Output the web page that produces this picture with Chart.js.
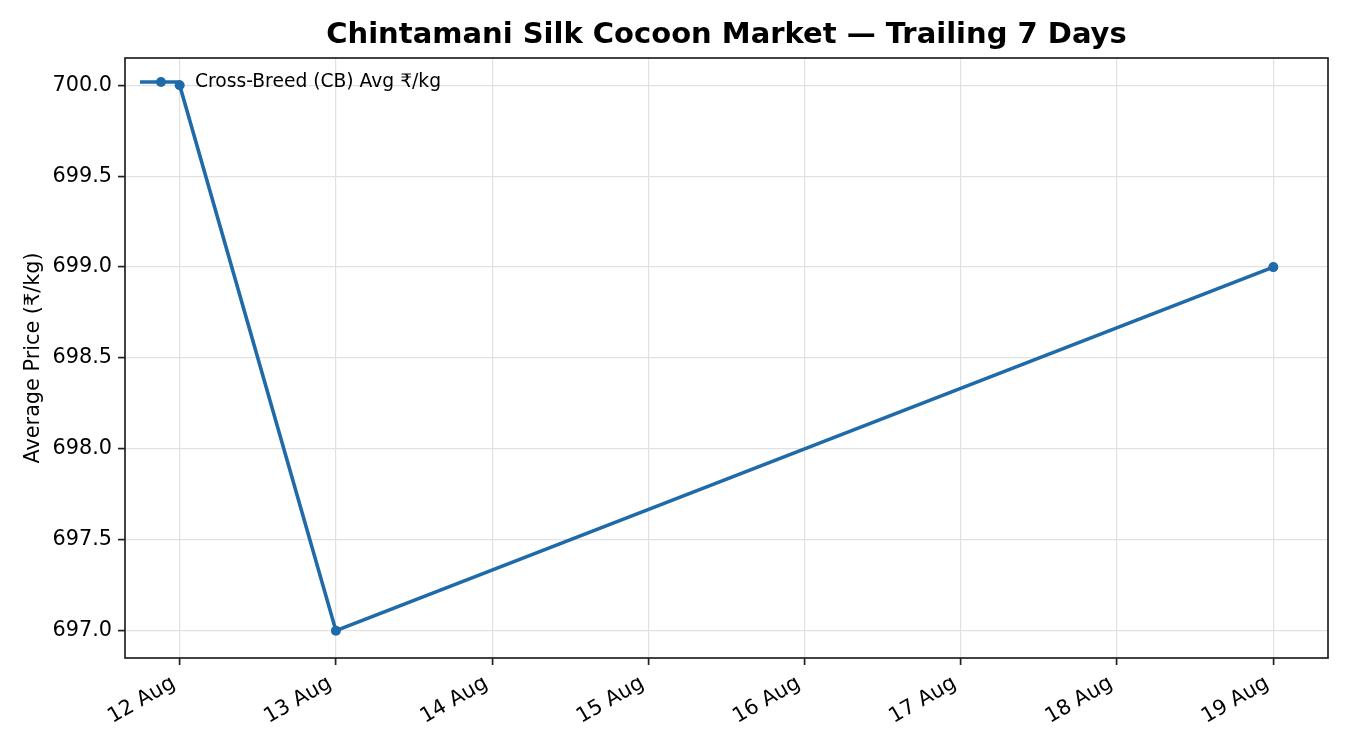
<!DOCTYPE html>
<html>
<head>
<meta charset="utf-8">
<script src="https://cdn.jsdelivr.net/npm/chart.js@4.4.1/dist/chart.umd.min.js"></script>
<style>
  html, body { margin: 0; padding: 0; background: #ffffff; }
  #wrap { width: 1350px; height: 750px; }
</style>
</head>
<body>
<div id="wrap"><canvas id="cocoonChart" width="1350" height="750"></canvas></div>
<script>
/************************************************************************************************
 *                                        CHART DATA
 * **********************************************************************************************/
const dayLabels = ["12 Aug", "13 Aug", "19 Aug"];
const dayOfMonth = [12, 13, 19];
const cbAvgPrice = [700.0, 697.0, 699.0];

const xTickDays = [12, 13, 14, 15, 16, 17, 18, 19];
const yTickValues = [697.0, 697.5, 698.0, 698.5, 699.0, 699.5, 700.0];

/************************************************************************************************
 *                                        CHART SETTINGS
 * **********************************************************************************************/
const cocoonSettings = {
  chartTitle: "Chintamani Silk Cocoon Market \u2014 Trailing 7 Days",
  yAxisTitle: "Average Price (\u20B9/kg)",
  seriesLabel: "Cross-Breed (CB) Avg \u20B9/kg",
  lineColor: "#1f6aa8",
  font: "'DejaVu Sans', 'Noto Sans', sans-serif",
  axisColor: "#222222",
  gridColor: "#e1e1e1",
};

// matplotlib style 5% margins around the data
const xMin = xTickDays[0] - 0.35;
const xMax = xTickDays[xTickDays.length - 1] + 0.35;
const yMin = yTickValues[0] - 0.15;
const yMax = yTickValues[yTickValues.length - 1] + 0.15;

const points = dayOfMonth.map((d, i) => ({ x: d, y: cbAvgPrice[i] }));

/************************************************************************************************
 *                                        PLUGINS
 * **********************************************************************************************/
const framePlugin = {
  id: "frame",
  afterDraw(chart) {
    const { ctx, chartArea: a } = chart;
    ctx.save();

    // title, centred over the axes
    ctx.fillStyle = "#000";
    ctx.font = "bold 29px " + cocoonSettings.font;
    ctx.textAlign = "center";
    ctx.textBaseline = "middle";
    ctx.fillText(cocoonSettings.chartTitle, (a.left + a.right) / 2, 35);

    // four spines
    ctx.strokeStyle = cocoonSettings.axisColor;
    ctx.lineWidth = 1.7;
    ctx.strokeRect(a.left, a.top, a.right - a.left, a.bottom - a.top);

    // legend (no box), line + marker handle
    const ly = 82;
    ctx.strokeStyle = cocoonSettings.lineColor;
    ctx.lineWidth = 3.6;
    ctx.beginPath();
    ctx.moveTo(140, ly);
    ctx.lineTo(181, ly);
    ctx.stroke();
    ctx.fillStyle = cocoonSettings.lineColor;
    ctx.beginPath();
    ctx.arc(161, ly, 5, 0, Math.PI * 2);
    ctx.fill();
    ctx.fillStyle = "#000";
    ctx.font = "18.7px " + cocoonSettings.font;
    ctx.textAlign = "left";
    ctx.fillText(cocoonSettings.seriesLabel, 195, ly);

    ctx.restore();
  },
};

/************************************************************************************************
 *                                        CHART CONFIGURATION
 * **********************************************************************************************/
const tickFont = { family: cocoonSettings.font, size: 20.8 };

const config = {
  type: "line",
  data: {
    datasets: [
      {
        label: cocoonSettings.seriesLabel,
        data: points,
        borderColor: cocoonSettings.lineColor,
        backgroundColor: cocoonSettings.lineColor,
        borderWidth: 3.6,
        pointRadius: 5,
        pointHoverRadius: 5,
        pointBorderWidth: 0,
        tension: 0,
      },
    ],
  },
  options: {
    responsive: false,
    animation: false,
    devicePixelRatio: 1,
    layout: { padding: { top: 58, right: 22, left: 0, bottom: 0 } },
    plugins: {
      legend: { display: false },
      title: { display: false },
      tooltip: { enabled: false },
    },
    scales: {
      x: {
        type: "linear",
        min: xMin,
        max: xMax,
        afterFit: (scale) => { scale.height = 92; },
        afterBuildTicks: (scale) => { scale.ticks = xTickDays.map((v) => ({ value: v })); },
        border: { display: false },
        grid: {
          color: cocoonSettings.gridColor,
          lineWidth: 1.2,
          tickColor: cocoonSettings.axisColor,
          tickLength: 7,
          tickWidth: 1.7,
        },
        ticks: {
          color: "#000",
          font: tickFont,
          padding: 6,
          labelOffset: -6,
          minRotation: 30,
          maxRotation: 30,
          callback: (v) => v + " Aug",
        },
      },
      y: {
        min: yMin,
        max: yMax,
        afterFit: (scale) => { scale.width = 125; },
        afterBuildTicks: (scale) => { scale.ticks = yTickValues.map((v) => ({ value: v })); },
        border: { display: false },
        grid: {
          color: cocoonSettings.gridColor,
          lineWidth: 1.2,
          tickColor: cocoonSettings.axisColor,
          tickLength: 7,
          tickWidth: 1.7,
        },
        ticks: {
          color: "#000",
          font: tickFont,
          padding: 6,
          callback: (v) => Number(v).toFixed(1),
        },
        title: {
          display: true,
          text: cocoonSettings.yAxisTitle,
          color: "#000",
          font: { family: cocoonSettings.font, size: 20.8 },
          padding: { top: 21, bottom: 0 },
        },
      },
    },
  },
  plugins: [framePlugin],
};

new Chart(document.getElementById("cocoonChart"), config);
</script>
</body>
</html>
